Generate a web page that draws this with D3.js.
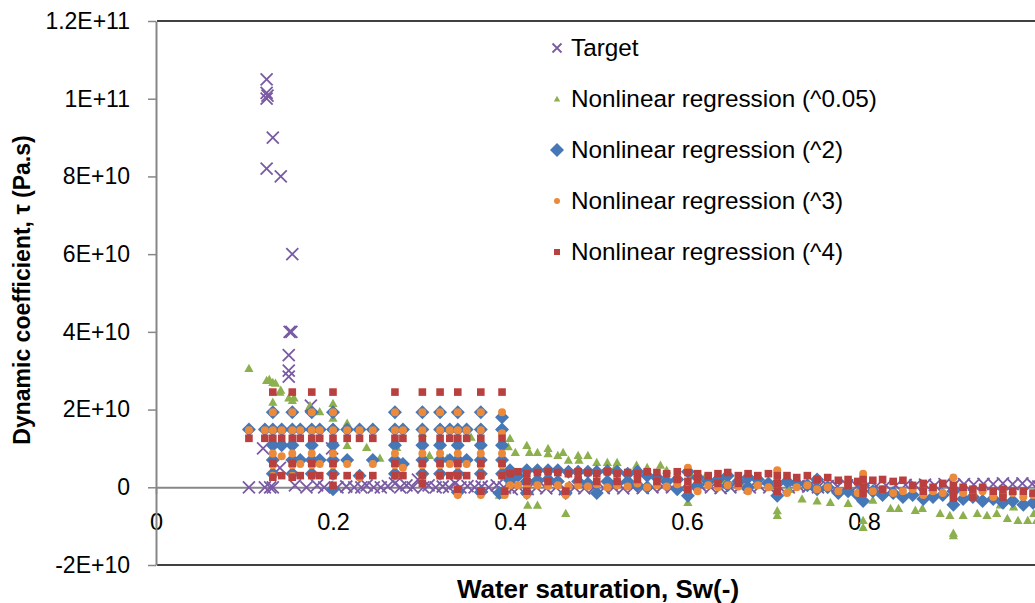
<!DOCTYPE html>
<html>
<head>
<meta charset="utf-8">
<script src="https://cdn.jsdelivr.net/npm/d3@7"></script>
<style>
body { margin: 0; background: #fff; }
text { font-family: "Liberation Sans", Arial, sans-serif; fill: #000; }
</style>
</head>
<body>
<div id="chart"></div>
<script>
// values, tau in units of 1E+10 Pa.s
var targetPts = [
	[0.105,0.0],[0.121,1.0],[0.125,10.5],[0.125,10.15],[0.126,10.08],[0.125,10.0],[0.125,8.2],[0.132,9.0],[0.141,8.0],
	[0.154,6.0],[0.151,4.0],[0.153,4.0],[0.150,3.4],[0.150,3.0],[0.150,2.85],[0.123,0.0],[0.129,0.0],[0.132,0.0],
	[0.140,0.5],[0.157,0.05],[0.175,2.1],[0.170,0.0],[0.182,0.05],[0.190,0.0],[0.199,1.0],[0.205,0.0],[0.215,0.02],
	[0.224,0.0],[0.232,0.0],[0.238,0.05],[0.246,0.0],[0.254,0.0],[0.262,0.03],[0.270,0.1],[0.276,0.0],[0.283,0.05],
	[0.290,0.0],[0.296,0.2],[0.302,0.0],[0.308,0.05],[0.316,0.0],[0.324,0.02],[0.331,0.0],[0.338,0.1],[0.344,0.0],
	[0.352,0.03],[0.360,0.0],[0.368,0.02],[0.376,0.0],[0.385,0.05],[0.393,0.0],[0.402,-0.05],[0.410,0.0],[0.420,-0.05],
	[0.430,0.0],[0.441,-0.03],[0.452,0.0],[0.462,-0.05],[0.473,0.0],[0.484,-0.03],[0.495,0.0],[0.506,-0.02],[0.517,0.0],
	[0.528,-0.03],[0.539,0.0],[0.550,-0.02],[0.561,0.0],[0.572,0.02],[0.583,0.0],[0.594,-0.03],[0.605,0.0],[0.616,0.02],
	[0.627,0.0],[0.638,-0.02],[0.649,0.0],[0.660,0.02],[0.671,0.0],[0.682,0.03],[0.693,0.0],[0.704,0.02],[0.715,0.0],
	[0.726,0.03],[0.737,0.02],[0.748,0.0],[0.759,0.03],[0.770,0.02],[0.781,0.05],[0.792,0.03],[0.803,0.05],[0.814,0.03],
	[0.825,0.05],[0.836,0.04],[0.847,0.06],[0.858,0.05],[0.869,0.07],[0.880,0.05],[0.891,0.08],[0.902,0.06],[0.913,0.08],
	[0.924,0.07],[0.935,0.09],[0.946,0.08],[0.957,0.1],[0.968,0.08],[0.979,0.1],[0.990,0.09],[0.997,0.02]
]

var pow005Pts = [
	[0.105,3.06],[0.125,2.75],[0.128,2.78],[0.132,2.7],[0.135,2.68],[0.140,2.45],[0.132,2.19],[0.141,2.5],[0.150,2.3],
	[0.154,2.24],[0.156,2.3],[0.174,2.1],[0.185,1.95],[0.200,2.16],[0.200,1.78],[0.216,1.65],[0.216,1.08],[0.238,1.03],
	[0.253,0.75],[0.272,1.03],[0.301,1.39],[0.309,0.82],[0.329,0.75],[0.356,1.29],[0.366,0.8],[0.388,-0.2],
	[0.400,1.26],[0.398,1.05],[0.406,0.9],[0.419,1.08],[0.422,0.9],[0.431,0.9],[0.443,1.0],[0.443,0.87],[0.454,0.82],
	[0.460,0.9],[0.466,0.7],[0.477,0.82],[0.478,0.7],[0.488,0.82],[0.498,0.64],[0.510,0.64],[0.521,0.64],[0.520,0.56],
	[0.543,0.57],[0.555,0.51],[0.570,0.57],[0.577,0.44],[0.589,0.3],[0.605,0.3],[0.620,0.25],[0.640,0.2],[0.660,0.15],
	[0.680,0.1],[0.700,0.05],[0.715,-0.05],[0.420,-0.46],[0.431,-0.46],[0.463,-0.67],[0.601,-0.39],[0.702,-0.6],
	[0.702,-0.72],[0.730,-0.3],[0.747,-0.35],[0.762,-0.39],[0.782,-0.41],[0.799,-0.85],[0.799,-1.03],[0.810,-0.33],
	[0.830,-0.54],[0.839,-0.54],[0.858,-0.59],[0.866,-0.54],[0.886,-0.67],[0.897,-0.72],[0.901,-1.18],[0.901,-1.24],
	[0.912,-0.72],[0.928,-0.67],[0.939,-0.72],[0.950,-0.67],[0.954,-0.45],[0.962,-0.8],[0.969,-0.5],[0.974,-0.85],
	[0.985,-0.85],[0.992,-0.67],[0.995,-0.85]
]

var pow2Pts = [
	[0.105,1.49],[0.123,1.49],
	[0.132,1.93],[0.132,1.49],[0.132,1.08],[0.132,0.7],[0.132,0.35],
	[0.142,1.49],[0.142,1.08],
	[0.154,1.93],[0.154,1.49],[0.154,1.08],[0.154,0.7],[0.154,0.35],
	[0.163,1.49],[0.163,0.7],
	[0.176,1.93],[0.176,1.49],[0.176,1.08],[0.176,0.7],[0.176,0.35],
	[0.185,1.49],[0.185,0.7],
	[0.200,1.93],[0.200,1.49],[0.200,1.08],[0.200,0.7],[0.200,0.35],[0.200,-0.05],
	[0.216,1.49],[0.216,0.7],[0.230,1.49],[0.230,0.3],[0.245,1.49],[0.245,0.7],
	[0.270,1.93],[0.270,1.49],[0.270,1.08],[0.270,0.7],[0.270,0.35],
	[0.279,1.49],[0.279,0.6],
	[0.301,1.93],[0.301,1.49],[0.301,1.08],[0.301,0.7],[0.301,0.35],
	[0.321,1.93],[0.321,1.49],[0.321,1.08],[0.321,0.7],[0.321,0.35],
	[0.332,1.49],[0.332,0.7],
	[0.341,1.93],[0.341,1.49],[0.341,1.08],[0.341,0.7],[0.341,0.35],[0.341,-0.13],
	[0.351,1.49],[0.351,0.7],
	[0.367,1.93],[0.367,1.49],[0.367,1.08],[0.367,0.7],[0.367,0.35],[0.367,-0.13],
	[0.391,1.8],[0.391,1.49],[0.391,1.08],[0.391,0.7],[0.391,0.35],
	[0.400,0.44],[0.400,0.18],[0.388,-0.15],[0.409,0.3],[0.419,0.44],[0.419,0.15],[0.419,-0.15],[0.431,0.44],
	[0.431,0.18],[0.443,0.44],[0.443,0.2],[0.454,0.44],[0.454,0.15],[0.463,-0.15],[0.466,0.4],[0.477,0.4],[0.477,0.15],
	[0.488,0.4],[0.488,0.1],[0.498,0.4],[0.498,-0.15],[0.510,0.42],[0.510,0.15],[0.521,0.4],[0.521,0.1],[0.533,0.35],
	[0.533,0.15],[0.544,0.4],[0.544,0.05],[0.555,0.3],[0.555,0.0],[0.566,0.25],[0.577,0.15],[0.589,0.2],[0.589,-0.05],
	[0.601,0.4],[0.601,-0.22],[0.612,0.25],[0.612,0.05],[0.624,0.15],[0.635,0.2],[0.646,0.3],[0.646,0.05],[0.658,0.15],
	[0.669,0.25],[0.669,0.0],[0.680,0.2],[0.692,0.1],[0.702,-0.22],[0.702,0.1],[0.713,0.15],[0.724,0.1],[0.736,0.05],
	[0.747,-0.05],[0.747,0.2],[0.759,0.0],[0.771,-0.15],[0.782,-0.1],[0.793,-0.2],[0.799,-0.35],[0.799,0.05],
	[0.810,-0.1],[0.821,-0.2],[0.833,-0.15],[0.844,-0.25],[0.855,-0.2],[0.867,-0.3],[0.878,-0.25],[0.889,-0.2],
	[0.901,-0.45],[0.901,-0.1],[0.912,-0.3],[0.923,-0.25],[0.934,-0.35],[0.946,-0.3],[0.957,-0.4],[0.968,-0.35],
	[0.980,-0.45],[0.991,-0.4],[1.0,-0.35]
]

var pow3Pts = [
	[0.105,1.47],[0.123,1.47],
	[0.132,1.93],[0.132,1.47],[0.132,0.87],[0.132,0.57],[0.132,0.3],
	[0.142,1.47],[0.142,0.8],
	[0.154,1.93],[0.154,1.47],[0.154,0.87],[0.154,0.57],[0.154,0.3],
	[0.163,1.47],[0.163,0.6],
	[0.176,1.93],[0.176,1.47],[0.176,0.87],[0.176,0.57],[0.176,0.3],
	[0.185,1.47],[0.185,0.6],
	[0.200,1.93],[0.200,1.47],[0.200,0.87],[0.200,0.57],[0.200,0.3],
	[0.216,1.47],[0.216,0.6],[0.230,1.47],[0.230,0.25],[0.245,1.47],[0.245,0.6],
	[0.270,1.93],[0.270,1.47],[0.270,0.87],[0.270,0.57],[0.270,0.3],
	[0.279,1.47],[0.279,0.5],
	[0.301,1.93],[0.301,1.47],[0.301,0.87],[0.301,0.57],[0.301,0.3],
	[0.321,1.93],[0.321,1.47],[0.321,0.87],[0.321,0.57],[0.321,0.3],
	[0.332,1.47],[0.332,0.6],
	[0.341,1.93],[0.341,1.47],[0.341,0.87],[0.341,0.57],[0.341,0.3],[0.341,-0.2],
	[0.351,1.47],[0.351,0.6],
	[0.367,1.93],[0.367,1.47],[0.367,0.87],[0.367,0.57],[0.367,0.3],[0.367,-0.2],
	[0.391,1.93],[0.391,1.39],[0.391,0.87],[0.391,0.57],[0.391,0.3],
	[0.394,-0.2],[0.400,0.05],[0.409,0.05],[0.419,0.02],[0.419,-0.2],[0.431,0.05],[0.443,0.03],[0.454,0.05],
	[0.463,-0.2],[0.466,0.03],[0.477,0.05],[0.488,0.02],[0.498,0.08],[0.510,0.0],[0.521,0.05],[0.533,0.02],
	[0.544,0.1],[0.555,0.0],[0.566,0.05],[0.577,0.02],[0.589,0.08],[0.601,0.5],[0.601,-0.05],[0.612,-0.1],
	[0.624,0.05],[0.635,0.0],[0.646,0.05],[0.658,0.02],[0.669,-0.1],[0.680,0.05],[0.692,0.0],[0.702,0.44],
	[0.702,0.1],[0.713,-0.15],[0.724,0.0],[0.736,0.05],[0.747,-0.05],[0.759,0.0],[0.771,-0.1],[0.782,0.05],
	[0.793,-0.15],[0.799,0.35],[0.799,0.0],[0.810,-0.1],[0.821,-0.05],[0.833,-0.15],[0.844,-0.1],[0.855,-0.05],
	[0.867,-0.2],[0.878,-0.1],[0.889,-0.15],[0.901,0.25],[0.901,-0.2],[0.912,-0.15],[0.923,-0.2],[0.934,-0.1],
	[0.946,-0.25],[0.957,-0.2],[0.968,-0.15],[0.980,-0.25],[0.991,-0.2],[1.0,-0.3]
]

var pow4Pts = [
	[0.105,1.26],[0.123,1.26],
	[0.132,2.45],[0.132,1.26],[0.132,0.62],[0.132,0.26],
	[0.142,1.26],[0.142,0.3],
	[0.154,2.45],[0.154,1.26],[0.154,0.62],[0.154,0.26],
	[0.163,1.26],[0.163,0.3],
	[0.176,2.45],[0.176,1.26],[0.176,0.62],[0.176,0.3],
	[0.185,1.26],[0.185,0.3],
	[0.200,2.45],[0.200,1.26],[0.200,0.62],[0.200,0.3],[0.200,0.05],
	[0.216,1.26],[0.216,0.3],[0.230,1.26],[0.230,0.3],[0.245,1.26],[0.245,0.3],
	[0.270,2.45],[0.270,1.26],[0.270,0.62],[0.270,0.3],
	[0.279,1.26],[0.279,0.3],
	[0.301,2.45],[0.301,1.26],[0.301,0.62],[0.301,0.3],[0.301,0.1],
	[0.321,2.45],[0.321,1.26],[0.321,0.62],[0.321,0.3],
	[0.332,1.26],[0.332,0.3],
	[0.341,2.45],[0.341,1.26],[0.341,0.62],[0.341,0.3],[0.341,-0.05],
	[0.351,1.26],[0.351,0.3],
	[0.367,2.45],[0.367,1.26],[0.367,0.62],[0.367,0.3],[0.367,-0.1],
	[0.391,2.45],[0.391,1.26],[0.391,0.62],[0.391,0.3],
	[0.400,0.35],[0.394,-0.1],[0.409,0.4],[0.419,0.35],[0.419,0.15],[0.419,-0.1],[0.431,0.38],[0.443,0.4],
	[0.443,0.15],[0.454,0.38],[0.463,-0.1],[0.466,0.35],[0.477,0.4],[0.477,0.2],[0.488,0.38],[0.498,0.35],
	[0.498,0.15],[0.510,0.4],[0.521,0.35],[0.521,0.15],[0.533,0.38],[0.544,0.35],[0.544,0.2],[0.555,0.4],
	[0.566,0.38],[0.566,0.15],[0.577,0.35],[0.589,0.4],[0.589,0.2],[0.601,0.38],[0.601,0.15],[0.601,-0.05],
	[0.612,0.35],[0.612,0.2],[0.624,0.3],[0.635,0.35],[0.635,0.1],[0.646,0.38],[0.658,0.3],[0.658,0.1],
	[0.669,0.35],[0.680,0.3],[0.692,0.35],[0.702,0.3],[0.702,0.1],[0.702,-0.1],[0.713,0.3],[0.724,0.25],
	[0.736,0.3],[0.747,0.2],[0.759,0.25],[0.771,0.18],[0.782,0.2],[0.782,0.05],[0.793,0.15],[0.799,0.2],
	[0.799,0.0],[0.799,-0.15],[0.810,0.18],[0.821,0.2],[0.821,-0.05],[0.833,0.15],[0.844,0.18],[0.855,0.05],
	[0.867,0.1],[0.867,-0.1],[0.878,0.0],[0.889,0.1],[0.901,0.05],[0.901,-0.1],[0.901,-0.28],[0.912,0.0],
	[0.923,-0.05],[0.923,-0.25],[0.934,0.0],[0.946,-0.1],[0.957,-0.05],[0.957,-0.25],[0.968,-0.1],[0.980,-0.1],
	[0.991,-0.15],[1.0,-0.1]
]

var seriesNames = ["Target", "Nonlinear regression (^0.05)", "Nonlinear regression (^2)", "Nonlinear regression (^3)", "Nonlinear regression (^4)"]
var seriesColours = ["#7a5ba3", "#8db04e", "#4677b6", "#ec8a3c", "#b9403e"]
var seriesShapes = ["cross", "triangle", "diamond", "circle", "square"]

var xTicks = [0, 0.2, 0.4, 0.6, 0.8]
var xTickLabels = ["0", "0.2", "0.4", "0.6", "0.8"]
var yTicks = [-2, 0, 2, 4, 6, 8, 10, 12]
var yTickLabels = ["-2E+10", "0", "2E+10", "4E+10", "6E+10", "8E+10", "1E+11", "1.2E+11"]

var w = 1035
var h = 603

var svg = d3.select("#chart")
	.append("svg")
	.attr("width", w)
	.attr("height", h)

var x = d3.scaleLinear().domain([0, 1]).range([156, 1041])
var y = d3.scaleLinear().domain([-2, 12]).range([565, 21])

// frame lines at top and bottom of plot area
svg.append("line")
	.attr("x1", 157).attr("x2", w).attr("y1", y(12)).attr("y2", y(12))
	.style("stroke", "#000").style("stroke-width", "1.5px")
svg.append("line")
	.attr("x1", 157).attr("x2", w).attr("y1", y(-2)).attr("y2", y(-2))
	.style("stroke", "#000").style("stroke-width", "1.5px")

// x axis sits on zero
var xAxis = d3.axisBottom(x)
	.tickValues(xTicks)
	.tickFormat(function(d, i) {return xTickLabels[i]})
	.tickSizeInner(7)
	.tickSizeOuter(0)
	.tickPadding(19)

var xG = svg.append("g")
	.attr("transform", "translate(0," + y(0) + ")")
	.call(xAxis)
xG.select(".domain").style("stroke", "#878787").style("stroke-width", "2px")
xG.selectAll(".tick line").style("stroke", "#878787").style("stroke-width", "1.5px")
xG.selectAll("text").style("font-size", "23.5px").style("font-family", "Liberation Sans, Arial, sans-serif").attr("fill", "#000")

// markers
function drawMarker(g, shape, colour, size) {
	var s = size
	if (shape == "cross") {
		g.append("path")
			.attr("d", "M" + (-s) + "," + (-s) + "L" + s + "," + s + "M" + (-s) + "," + s + "L" + s + "," + (-s))
			.style("stroke", colour).style("stroke-width", "1.8px").style("fill", "none")
	} else if (shape == "triangle") {
		g.append("path")
			.attr("d", "M0," + (-s) + "L" + s + "," + (s * 0.8) + "L" + (-s) + "," + (s * 0.8) + "Z")
			.style("fill", colour)
	} else if (shape == "diamond") {
		g.append("path")
			.attr("d", "M0," + (-s) + "L" + s + ",0L0," + s + "L" + (-s) + ",0Z")
			.style("fill", colour)
	} else if (shape == "circle") {
		g.append("circle").attr("r", s).style("fill", colour)
	} else {
		g.append("rect").attr("x", -s).attr("y", -s).attr("width", 2 * s).attr("height", 2 * s).style("fill", colour)
	}
}

var allSeries = [targetPts, pow005Pts, pow2Pts, pow3Pts, pow4Pts]
var markerSizes = [6, 4.6, 7, 4, 3.8]

var dotG = svg.append("g")
allSeries.forEach(function(pts, k) {
	dotG.append("g")
		.selectAll("g")
		.data(pts)
		.enter()
		.append("g")
		.attr("transform", function(d) {return "translate(" + x(d[0]) + "," + y(d[1]) + ")"})
		.each(function() {drawMarker(d3.select(this), seriesShapes[k], seriesColours[k], markerSizes[k])})
})

// y axis on top
var yAxis = d3.axisLeft(y)
	.tickValues(yTicks)
	.tickFormat(function(d, i) {return yTickLabels[i]})
	.tickSizeInner(8)
	.tickSizeOuter(0)
	.tickPadding(18)

var yG = svg.append("g")
	.attr("transform", "translate(156,0)")
	.call(yAxis)
yG.select(".domain").style("stroke", "#878787").style("stroke-width", "2px")
yG.selectAll(".tick line").style("stroke", "#878787").style("stroke-width", "1.5px")
yG.selectAll("text").style("font-size", "23px").style("font-family", "Liberation Sans, Arial, sans-serif").attr("fill", "#000")

// legend
var legendSizes = [4.5, 3.2, 7, 3, 3]
var legG = svg.append("g")
seriesNames.forEach(function(name, k) {
	var ly = 48 + k * 51
	var mg = legG.append("g").attr("transform", "translate(557," + ly + ")")
	drawMarker(mg, seriesShapes[k], seriesColours[k], legendSizes[k])
	legG.append("text")
		.attr("x", 571)
		.attr("y", ly + 8)
		.style("font-size", "24.3px")
		.text(name)
})

// axis titles
svg.append("text")
	.attr("x", 598)
	.attr("y", 598)
	.attr("text-anchor", "middle")
	.style("font-size", "26px")
	.style("font-weight", "bold")
	.text("Water saturation, Sw(-)")

svg.append("text")
	.attr("transform", "translate(30,290) rotate(-90)")
	.attr("text-anchor", "middle")
	.style("font-size", "23px")
	.style("font-weight", "bold")
	.text("Dynamic coefficient, \u03c4 (Pa.s)")
</script>
</body>
</html>
